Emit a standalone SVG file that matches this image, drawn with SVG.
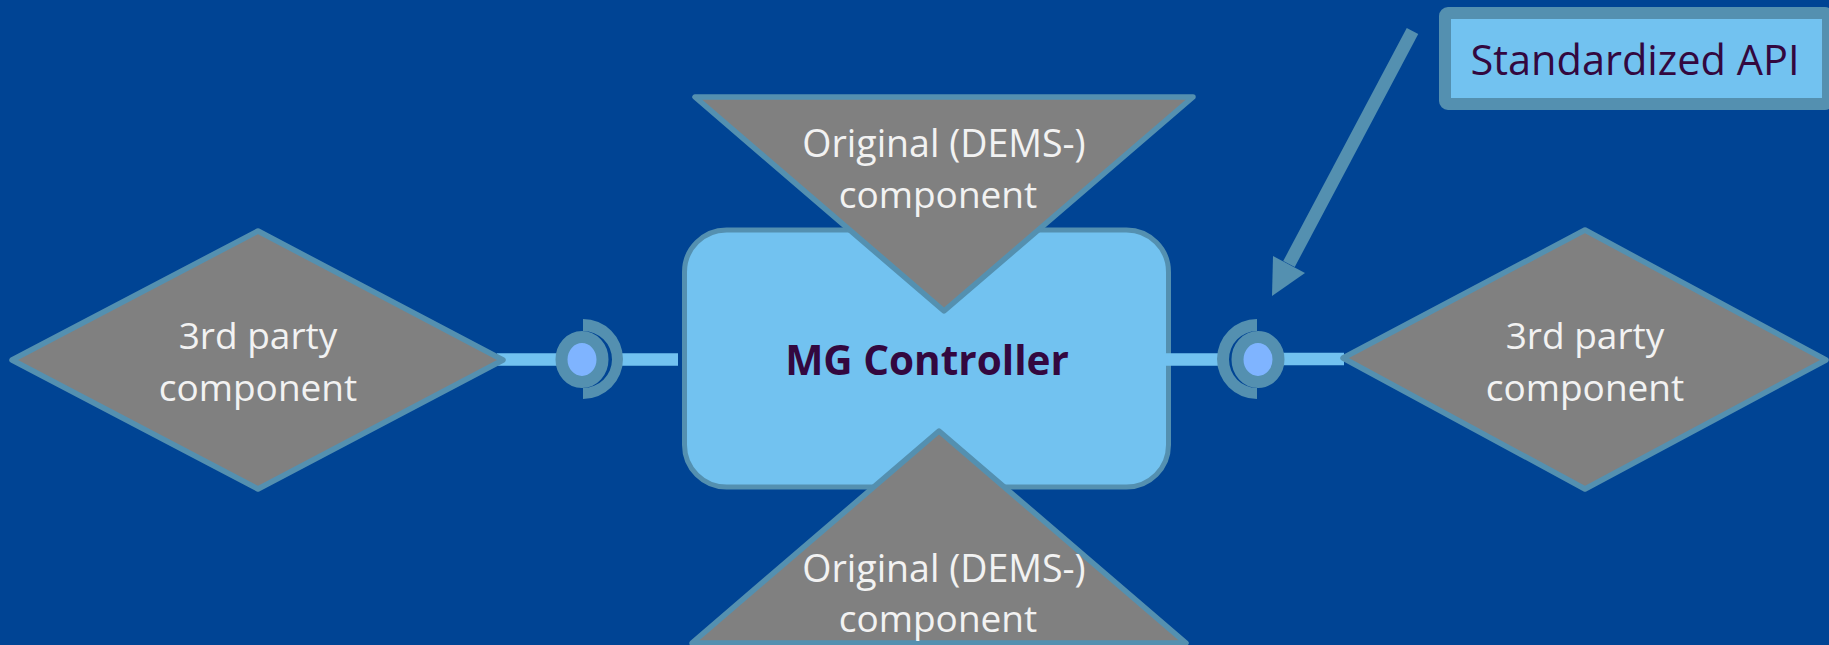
<svg xmlns="http://www.w3.org/2000/svg" width="1829" height="645" viewBox="0 0 1829 645">
<style>
.g{fill:#808080;stroke:#5490b0;stroke-width:5.500;stroke-linejoin:round}
.t{font-family:"Open Sans","Noto Sans",sans-serif;font-size:37px;fill:#f2f2f2;text-anchor:middle}
.o{font-size:37.500px}
.l{stroke:#72c2f0;stroke-width:12.500;fill:none}
.a{fill:#5490b0}
.c{fill:#7fb4ff;stroke:#5490b0;stroke-width:12}
.d{font-family:"Open Sans","Noto Sans",sans-serif;fill:#33083f;text-anchor:middle}
</style>
<rect width="1829" height="645" fill="#004494"/>
<g id="mg"><rect x="684.500" y="230" width="484" height="257" rx="42" fill="#72c2f0" stroke="#5490b0" stroke-width="5"/><text class="d" x="927" y="375" font-weight="700" font-size="40.500">MG Controller</text></g>
<g id="connectors">
<path class="l" d="M497 359.500H560M620 359.500H678M1162 359.500H1222M1280 359H1344"/>
<path d="M1412.500 31L1289 264" stroke="#5490b0" stroke-width="13" fill="none"/>
<path class="a" d="M1272 296L1305 273L1273 256Z"/>
</g>
<g id="top"><path class="g" d="M695 97H1193L944 311Z"/><text class="t o" x="944" y="157">Original (DEMS-)</text><text class="t" x="938" y="208">component</text></g>
<g id="bottom"><path class="g" d="M692 643L939 431L1186 643Z"/><text class="t o" x="944" y="582">Original (DEMS-)</text><text class="t" x="938" y="632">component</text></g>
<g id="left"><path class="g" d="M12 360L258 231L503 360L258 489Z"/><text class="t" x="258" y="349">3rd party</text><text class="t" x="258" y="401">component</text></g>
<g id="right"><path class="g" d="M1343 358L1585 230L1826 360L1585 489Z"/><text class="t" x="1585" y="349">3rd party</text><text class="t" x="1585" y="401">component</text></g>
<g id="api-l"><path class="a" d="M583 319A40 40 0 0 1 583 399V388A29 28.500 0 0 0 583 331Z"/><ellipse class="c" cx="582" cy="359.500" rx="20.500" ry="22.500"/></g>
<g id="api-r"><path class="a" d="M1257 319A40 40 0 0 0 1257 399V388A28 28.500 0 0 1 1257 331Z"/><ellipse class="c" cx="1258" cy="359.500" rx="20.500" ry="22.500"/></g>
<g id="api"><rect x="1445" y="13" width="383" height="91" rx="3" fill="#72c2f0" stroke="#5490b0" stroke-width="12"/><text class="d" x="1635" y="75" font-size="41.500">Standardized API</text></g>
</svg>
